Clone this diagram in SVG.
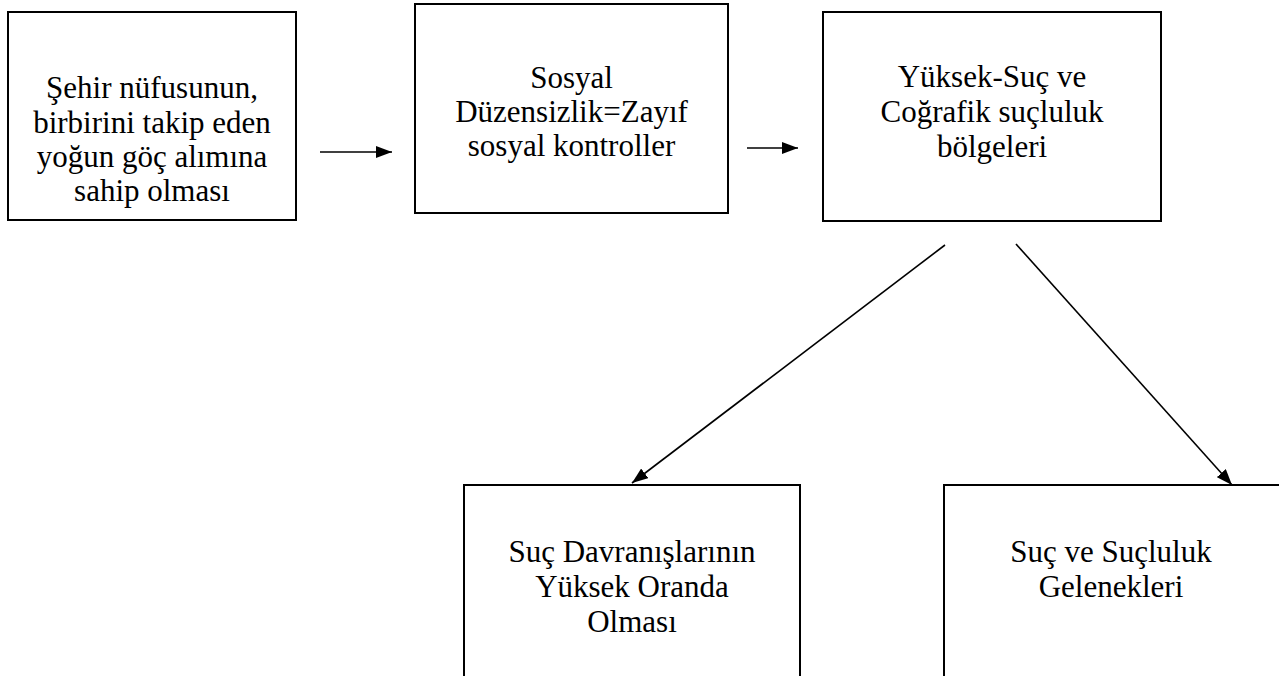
<svg xmlns="http://www.w3.org/2000/svg" width="1279" height="676" viewBox="0 0 1279 676">
<style>
.box{fill:#fff;stroke:#000;stroke-width:2}
.t{font-family:"Liberation Serif","Times New Roman",serif;font-size:31px;fill:#000;text-anchor:middle}
.c{stroke:#000;stroke-width:1.6;fill:none}
</style>
<defs>
<marker id="ah" markerUnits="userSpaceOnUse" markerWidth="16" markerHeight="12" refX="16" refY="6" orient="auto">
<path d="M0,0 L16,6 L0,12 Z" fill="#000"/>
</marker>
</defs>
<rect width="1279" height="676" fill="#fff"/>
<g id="n1">
<rect class="box" x="8" y="12" width="288" height="208"/>
<text class="t" x="152" y="98">Şehir nüfusunun,</text>
<text class="t" x="152" y="133">birbirini takip eden</text>
<text class="t" x="152" y="167">yoğun göç alımına</text>
<text class="t" x="152" y="201">sahip olması</text>
</g>
<g id="n2">
<rect class="box" x="415" y="4" width="313" height="209"/>
<text class="t" x="571.5" y="88">Sosyal</text>
<text class="t" x="571.5" y="122">Düzensizlik=Zayıf</text>
<text class="t" x="571.5" y="156">sosyal kontroller</text>
</g>
<g id="n3">
<rect class="box" x="823" y="12" width="338" height="209"/>
<text class="t" x="992" y="87">Yüksek-Suç ve</text>
<text class="t" x="992" y="122">Coğrafik suçluluk</text>
<text class="t" x="992" y="157">bölgeleri</text>
</g>
<g id="n4">
<rect class="box" x="464" y="485" width="336" height="220"/>
<text class="t" x="632" y="562">Suç Davranışlarının</text>
<text class="t" x="632" y="597">Yüksek Oranda</text>
<text class="t" x="632" y="632">Olması</text>
</g>
<g id="n5">
<rect class="box" x="944" y="485" width="337" height="220"/>
<text class="t" x="1111" y="562">Suç ve Suçluluk</text>
<text class="t" x="1111" y="597">Gelenekleri</text>
</g>
<g id="connectors">
<line class="c" x1="320" y1="152" x2="392" y2="152" marker-end="url(#ah)"/>
<line class="c" x1="747" y1="148" x2="798" y2="148" marker-end="url(#ah)"/>
<line class="c" x1="945" y1="245" x2="632" y2="483" marker-end="url(#ah)"/>
<line class="c" x1="1016" y1="244" x2="1232" y2="485" marker-end="url(#ah)"/>
</g>
</svg>
